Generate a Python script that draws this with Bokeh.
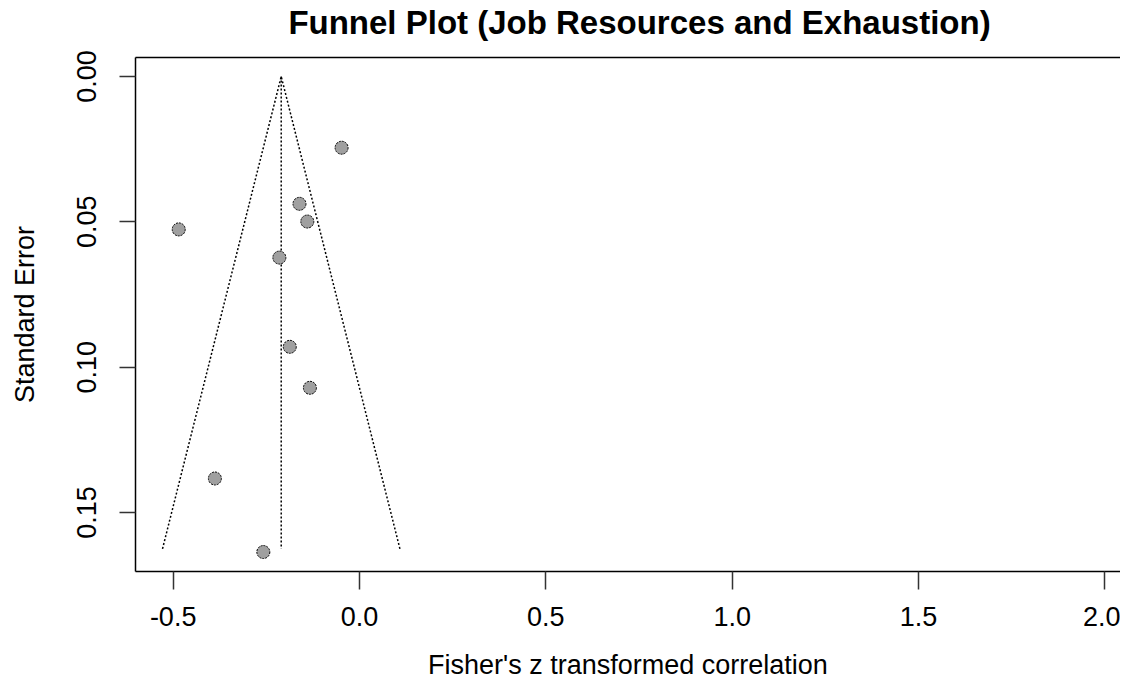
import numpy as np
from bokeh.plotting import figure
from bokeh.models import Range1d, FixedTicker, LinearAxis, Label
from bokeh.embed import file_html
from bokeh.resources import INLINE

# Data (Fisher's z and standard error per study)
effect_z = [-0.048, -0.161, -0.140, -0.485, -0.215, -0.187, -0.133, -0.388, -0.258]
std_err = [0.0245, 0.0438, 0.0499, 0.0526, 0.0623, 0.0930, 0.1071, 0.1383, 0.1636]
pooled_estimate = -0.210
funnel_se_max = 0.1625
z_crit = 1.96

x_ticks = [-0.5, 0.0, 0.5, 1.0, 1.5, 2.0]
x_tick_labels = ["-0.5", "0.0", "0.5", "1.0", "1.5", "2.0"]
y_ticks = [0.0, 0.05, 0.10, 0.15]
y_tick_labels = ["0.00", "0.05", "0.10", "0.15"]
title_text = "Funnel Plot (Job Resources and Exhaustion)"

FONT = "Liberation Sans"

p = figure(width=1120, height=683, output_backend="svg", toolbar_location=None,
           x_range=Range1d(-0.601, 2.042), y_range=Range1d(0.1703, -0.00654),
           min_border_left=135, min_border_right=0, min_border_top=57,
           min_border_bottom=112, title=None)
p.grid.visible = False
p.outline_line_color = None
p.background_fill_color = "white"
p.border_fill_color = "white"

# funnel (pseudo confidence region) and centre line
lx = [pooled_estimate - z_crit * funnel_se_max, pooled_estimate,
      pooled_estimate + z_crit * funnel_se_max]
ly = [funnel_se_max, 0.0, funnel_se_max]
p.line(lx, ly, line_color="black", line_width=1.5, line_dash="2 2")
p.line([pooled_estimate, pooled_estimate], [0.0, funnel_se_max],
       line_color="black", line_width=1.5, line_dash="2 2")

p.scatter(effect_z, std_err, size=13, fill_color="#a0a0a0", line_color="black",
          line_width=1, line_dash="2 1")

# axes
xa = p.xaxis[0]
xa.ticker = FixedTicker(ticks=x_ticks)
xa.major_label_overrides = {t: s for t, s in zip(x_ticks, x_tick_labels)}
ya = p.yaxis[0]
ya.ticker = FixedTicker(ticks=y_ticks)
ya.major_label_overrides = {t: s for t, s in zip(y_ticks, y_tick_labels)}
ya.major_label_orientation = "vertical"

for ax in (xa, ya):
    ax.minor_tick_line_color = None
    ax.major_tick_in = 0
    ax.major_tick_line_color = "#333333"
    ax.major_tick_line_width = 1.5
    ax.axis_line_color = "black"
    ax.axis_line_width = 1.5
    ax.major_label_text_font = FONT
    ax.major_label_text_font_size = "27px"
    ax.major_label_text_color = "black"
    ax.axis_label_text_font = FONT
    ax.axis_label_text_font_size = "27px"
    ax.axis_label_text_font_style = "normal"
    ax.axis_label_text_color = "black"

xa.major_tick_out = 18
xa.major_label_standoff = 17
xa.axis_label = "Fisher's z transformed correlation"
xa.axis_label_standoff = 21

ya.major_tick_out = 16
ya.major_label_standoff = 23
ya.axis_label = "Standard Error"
ya.axis_label_standoff = 35

# top border line
top = LinearAxis(ticker=FixedTicker(ticks=[]), major_tick_out=0, major_tick_in=0,
                 minor_tick_out=0, minor_tick_in=0, major_label_standoff=0,
                 major_label_text_font_size="0px", axis_line_color="black",
                 axis_line_width=1.5)
p.add_layout(top, "above")

# title as a label in the top panel (screen units relative to that panel)
title = Label(text=title_text, x=504, y=35, x_units="screen", y_units="screen",
              text_align="center", text_baseline="alphabetic",
              text_font=FONT, text_font_size="33px", text_font_style="bold",
              text_color="black")
p.add_layout(title, "above")

open("out.html", "w").write(file_html(p, INLINE))
